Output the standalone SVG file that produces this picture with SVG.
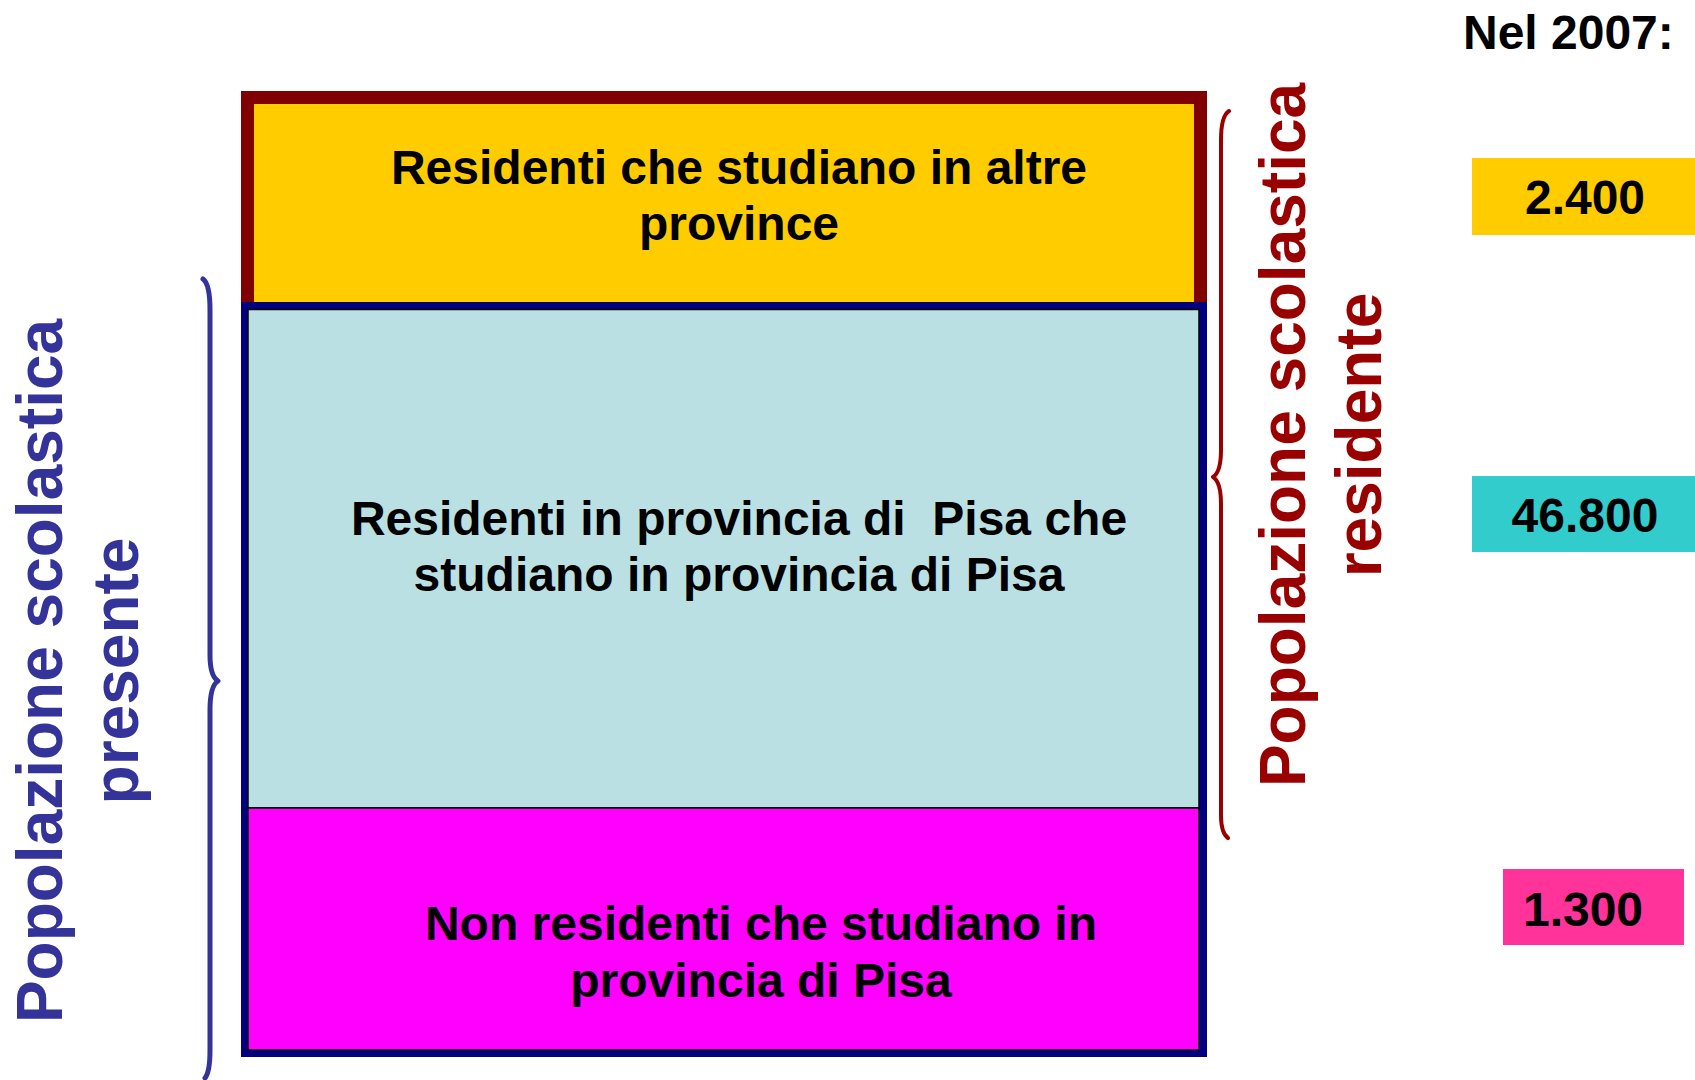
<svg xmlns="http://www.w3.org/2000/svg" width="1695" height="1080" viewBox="0 0 1695 1080">
<style>
text{font-family:"Liberation Sans",Arial,sans-serif;font-weight:bold}
.box{font-size:48px;fill:#000;text-anchor:middle}
.lbl{font-size:64px;text-anchor:middle}
.val{font-size:48px;fill:#000;text-anchor:middle}
.brace{fill:none;stroke-linecap:round;stroke-linejoin:round}
</style>
<rect width="1695" height="1080" fill="#fff"/>
<g id="altre">
<rect x="247.5" y="97.5" width="953" height="212" fill="#FFCC00" stroke="#800000" stroke-width="13"/>
<text class="box" x="739" y="184">Residenti che studiano in altre</text>
<text class="box" x="739" y="240">province</text>
</g>
<g id="outer-present">
<rect x="244" y="305" width="960" height="749" fill="#000080" stroke="#000080" stroke-width="6"/>
</g>
<g id="pisa">
<rect x="248" y="309.5" width="951" height="498.5" fill="#BBE0E3" stroke="#000" stroke-width="1.5"/>
<text class="box" x="739" y="535" xml:space="preserve">Residenti in provincia di  Pisa che</text>
<text class="box" x="739" y="591">studiano in provincia di Pisa</text>
</g>
<g id="nonres">
<rect x="248" y="808" width="951" height="242" fill="#FF00FF" stroke="#000" stroke-width="1.5"/>
<text class="box" x="761" y="940">Non residenti che studiano in</text>
<text class="box" x="761" y="997">provincia di Pisa</text>
</g>
<g id="connectors">
<path class="brace" stroke="#333399" stroke-width="5" d="M203,279 Q210,284 210,310 L210,655 Q210,676 218,681 Q210,686 210,710 L210,1050 Q210,1072 205,1078"/>
<path class="brace" stroke="#990000" stroke-width="4" d="M1229,111 Q1221,116 1221,140 L1221,450 Q1221,472 1213,477 Q1221,482 1221,504 L1221,815 Q1221,833 1228,838"/>
</g>
<g id="label-presente" transform="translate(62,671) rotate(-90)">
<text class="lbl" fill="#333399" x="0" y="0">Popolazione scolastica</text>
<text class="lbl" fill="#333399" x="0" y="76">presente</text>
</g>
<g id="label-residente" transform="translate(1305,435) rotate(-90)">
<text class="lbl" fill="#990000" x="0" y="0">Popolazione scolastica</text>
<text class="lbl" fill="#990000" x="0" y="76">residente</text>
</g>
<g id="header">
<text x="1463" y="49" font-size="48" fill="#000">Nel 2007:</text>
</g>
<g id="val-2400">
<rect x="1472" y="158" width="223" height="77" fill="#FFCC00"/>
<text class="val" x="1585" y="214">2.400</text>
</g>
<g id="val-46800">
<rect x="1472" y="476" width="223" height="76" fill="#33CCCC"/>
<text class="val" x="1585" y="532">46.800</text>
</g>
<g id="val-1300">
<rect x="1503" y="869" width="181" height="76" fill="#FF3399"/>
<text class="val" x="1583" y="926">1.300</text>
</g>
</svg>
